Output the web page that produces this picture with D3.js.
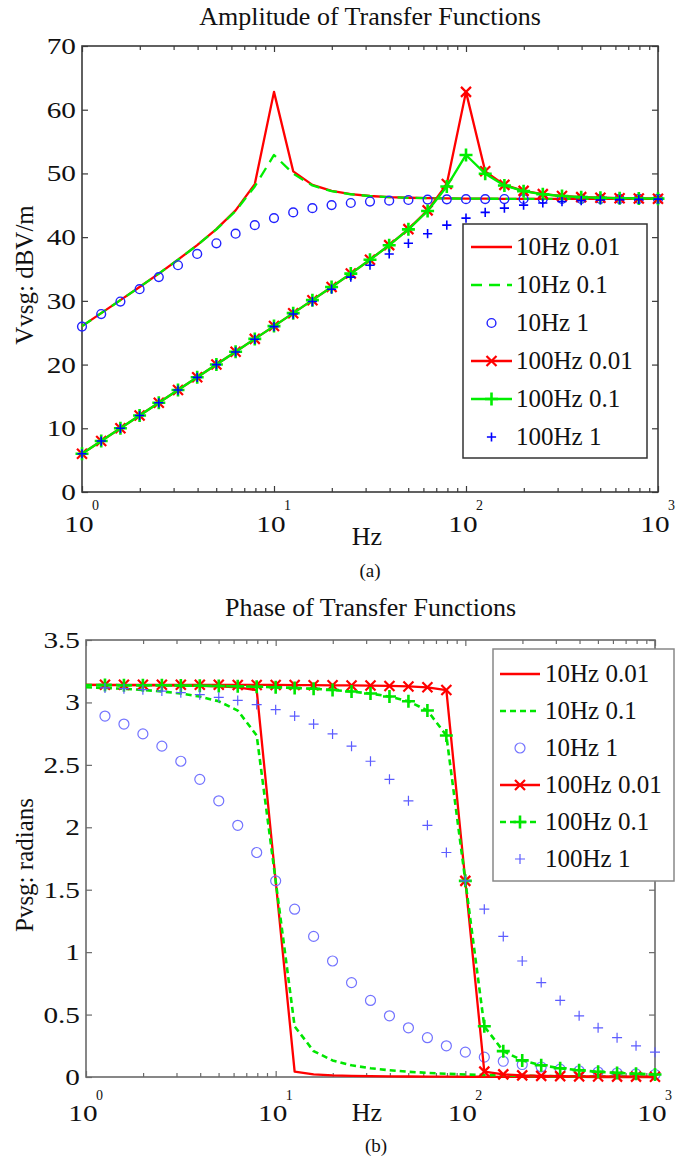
<!DOCTYPE html>
<html>
<head>
<meta charset="utf-8">
<script src="https://cdn.jsdelivr.net/npm/d3@7"></script>
<style>
  html, body { margin: 0; padding: 0; background: #fff; }
  svg { display: block; font-family: "Liberation Serif", "Times New Roman", serif; }
</style>
</head>
<body>
<svg id="fig" width="700" height="1161"></svg>
<script>
// Frequency grid, 10 points per decade (Hz)
const freqHz = [1, 1.259, 1.585, 1.995, 2.512, 3.162, 3.981, 5.012, 6.310, 7.943,
  10, 12.59, 15.85, 19.95, 25.12, 31.62, 39.81, 50.12, 63.10, 79.43,
  100, 125.9, 158.5, 199.5, 251.2, 316.2, 398.1, 501.2, 631.0, 794.3, 1000];

// Amplitude, dBV/m
const amp10Hz001 = [26.04, 28.07, 30.11, 32.18, 34.28, 36.46, 38.75, 41.26, 44.20, 48.33,
  62.8, 50.33, 48.20, 47.26, 46.75, 46.46, 46.28, 46.18, 46.11, 46.07,
  46.04, 46.03, 46.02, 46.01, 46.01, 46.0, 46.0, 46.0, 46.0, 46.0, 46.0];
const amp10Hz01 = [26.04, 28.07, 30.11, 32.17, 34.28, 36.45, 38.73, 41.22, 44.11, 47.96,
  52.9, 49.96, 48.11, 47.22, 46.73, 46.45, 46.28, 46.17, 46.11, 46.07,
  46.04, 46.03, 46.02, 46.01, 46.01, 46.0, 46.0, 46.0, 46.0, 46.0, 46.0];
const amp10Hz1 = [25.96, 27.93, 29.89, 31.83, 33.73, 35.59, 37.36, 39.03, 40.54, 41.88,
  42.99, 43.88, 44.55, 45.03, 45.36, 45.59, 45.73, 45.83, 45.89, 45.93,
  45.96, 45.97, 45.98, 45.99, 45.99, 46.0, 46.0, 46.0, 46.0, 46.0, 46.0];
const amp100Hz001 = [6.00, 8.00, 10.00, 12.00, 14.00, 16.00, 18.01, 20.01, 22.02, 24.03,
  26.04, 28.07, 30.11, 32.18, 34.28, 36.46, 38.75, 41.26, 44.20, 48.33,
  62.8, 50.33, 48.20, 47.26, 46.75, 46.46, 46.28, 46.18, 46.11, 46.07, 46.04];
const amp100Hz01 = [6.00, 8.00, 10.00, 12.00, 14.00, 16.00, 18.01, 20.01, 22.02, 24.03,
  26.04, 28.07, 30.11, 32.17, 34.28, 36.45, 38.73, 41.22, 44.11, 47.96,
  52.9, 49.96, 48.11, 47.22, 46.73, 46.45, 46.28, 46.17, 46.11, 46.07, 46.04];
const amp100Hz1 = [6.00, 8.00, 10.00, 12.00, 14.00, 16.00, 17.99, 19.99, 21.98, 23.97,
  25.96, 27.93, 29.89, 31.83, 33.73, 35.59, 37.36, 39.03, 40.54, 41.88,
  42.99, 43.88, 44.55, 45.03, 45.36, 45.59, 45.73, 45.83, 45.89, 45.93, 45.96];

// Phase, radians
const phase10Hz001 = [3.140, 3.139, 3.138, 3.137, 3.136, 3.135, 3.132, 3.128, 3.121, 3.099,
  1.571, 0.043, 0.021, 0.013, 0.009, 0.007, 0.005, 0.004, 0.003, 0.003,
  0.002, 0.002, 0.001, 0.001, 0.001, 0.001, 0.001, 0, 0, 0, 0];
const phase10Hz01 = [3.121, 3.116, 3.109, 3.100, 3.088, 3.071, 3.047, 3.009, 2.935, 2.735,
  1.571, 0.406, 0.207, 0.133, 0.094, 0.070, 0.054, 0.042, 0.033, 0.026,
  0.020, 0.016, 0.013, 0.010, 0.008, 0.006, 0.005, 0.004, 0.003, 0.003, 0.002];
const phase10Hz1 = [2.942, 2.891, 2.827, 2.748, 2.650, 2.529, 2.384, 2.212, 2.016, 1.798,
  1.571, 1.344, 1.126, 0.929, 0.756, 0.613, 0.490, 0.394, 0.315, 0.250,
  0.199, 0.159, 0.126, 0.100, 0.080, 0.063, 0.050, 0.040, 0.032, 0.025, 0.020];
const phase100Hz001 = [3.141, 3.141, 3.141, 3.141, 3.141, 3.141, 3.141, 3.141, 3.140, 3.140,
  3.140, 3.139, 3.138, 3.137, 3.136, 3.135, 3.132, 3.128, 3.121, 3.099,
  1.571, 0.043, 0.021, 0.013, 0.009, 0.007, 0.005, 0.004, 0.003, 0.003, 0.002];
const phase100Hz01 = [3.140, 3.139, 3.138, 3.138, 3.137, 3.135, 3.134, 3.132, 3.129, 3.126,
  3.121, 3.116, 3.109, 3.100, 3.088, 3.071, 3.047, 3.009, 2.935, 2.735,
  1.571, 0.406, 0.207, 0.133, 0.094, 0.070, 0.054, 0.042, 0.033, 0.026, 0.020];
const phase100Hz1 = [3.122, 3.116, 3.110, 3.102, 3.091, 3.078, 3.062, 3.041, 3.016, 2.983,
  2.942, 2.891, 2.827, 2.748, 2.650, 2.529, 2.384, 2.212, 2.016, 1.798,
  1.571, 1.344, 1.126, 0.929, 0.756, 0.613, 0.490, 0.394, 0.315, 0.250, 0.199];

const seriesNames = ["10Hz 0.01", "10Hz 0.1", "10Hz 1", "100Hz 0.01", "100Hz 0.1", "100Hz 1"];
const ampTicks = [0, 10, 20, 30, 40, 50, 60, 70];
const ampTickLabels = ["0", "10", "20", "30", "40", "50", "60", "70"];
const phaseTicks = [0, 0.5, 1, 1.5, 2, 2.5, 3, 3.5];
const phaseTickLabels = ["0", "0.5", "1", "1.5", "2", "2.5", "3", "3.5"];
const decadeTicks = [1, 10, 100, 1000];
const decadeExponents = ["0", "1", "2", "3"];

// ---- drawing ----
const svg = d3.select("#fig");

const minorTicks = [];
[1, 10, 100].forEach(d => { for (let m = 2; m <= 9; m++) minorTicks.push(d * m); });

const ampStyles = [
  { stroke: "#ff0000", width: 2.3 },
  { stroke: "#00ee00", width: 2.3, dash: "11,7" },
  { marker: "circle", color: "#2222ff", size: 4.4, mw: 1.4 },
  { stroke: "#ff0000", width: 2.3, marker: "x", color: "#ff0000", size: 5, mw: 2.2 },
  { stroke: "#00ee00", width: 2.3, marker: "plus", color: "#00ee00", size: 6.5, mw: 2.6 },
  { marker: "plus", color: "#0000ff", size: 4.6, mw: 1.6 }
];
const phaseStyles = [
  { stroke: "#ff0000", width: 2.3 },
  { stroke: "#00e600", width: 2.6, dash: "6,4" },
  { marker: "circle", color: "#7373ff", size: 5, mw: 1.2 },
  { stroke: "#ff0000", width: 2.3, marker: "x", color: "#ff0000", size: 5, mw: 2.2 },
  { stroke: "#00e600", width: 2.6, dash: "6,4", marker: "plus", color: "#00e600", size: 6.5, mw: 2.6 },
  { marker: "plus", color: "#5c5cff", size: 5, mw: 1.2 }
];

const panels = [
  {
    values: [amp10Hz001, amp10Hz01, amp10Hz1, amp100Hz001, amp100Hz01, amp100Hz1],
    styles: ampStyles, yDomain: [0, 70], yTicks: ampTicks, yLabels: ampTickLabels,
    box: { left: 82, right: 658, top: 46, bottom: 492 }, frameColor: "#3a3a3a",
    title: "Amplitude of Transfer Functions", titleY: 25,
    ylabel: "Vvsg: dBV/m", ylabelX: 33, ylabelY: 275,
    xlabelY: 545, tickBase: 532, expBase: 510,
    caption: "(a)", captionX: 370, captionY: 577, markerStart: 0,
    legend: { x: 463, y: 224, w: 184, h: 234, row0: 247, step: 38, s0: 471, s1: 512, tx: 516, color: "#333" }
  },
  {
    values: [phase10Hz001, phase10Hz01, phase10Hz1, phase100Hz001, phase100Hz01, phase100Hz1],
    styles: phaseStyles, yDomain: [0, 3.5], yTicks: phaseTicks, yLabels: phaseTickLabels,
    box: { left: 86, right: 655, top: 640, bottom: 1077 }, frameColor: "#6a6a6a",
    title: "Phase of Transfer Functions", titleY: 616,
    ylabel: "Pvsg: radians", ylabelX: 33, ylabelY: 865,
    xlabelY: 1121, tickBase: 1121, expBase: 1100,
    caption: "(b)", captionX: 376, captionY: 1152, markerStart: 1,
    legend: { x: 493, y: 649, w: 181, h: 232, row0: 674, step: 37, s0: 500, s1: 540, tx: 545, color: "#888" }
  }
];

function markerPath(kind, s) {
  if (kind === "plus") return `M${-s},0H${s}M0,${-s}V${s}`;
  if (kind === "x") return `M${-s},${-s}L${s},${s}M${-s},${s}L${s},${-s}`;
  return null;
}

function drawMarker(g, st, cx, cy) {
  if (st.marker === "circle") {
    g.append("circle").attr("cx", cx).attr("cy", cy).attr("r", st.size)
      .attr("fill", "none").attr("stroke", st.color).attr("stroke-width", st.mw);
  } else {
    g.append("path").attr("transform", `translate(${cx},${cy})`)
      .attr("d", markerPath(st.marker, st.size))
      .attr("fill", "none").attr("stroke", st.color).attr("stroke-width", st.mw);
  }
}

panels.forEach(p => {
  const b = p.box;
  const x = d3.scaleLog().domain([1, 1000]).range([b.left, b.right]);
  const y = d3.scaleLinear().domain(p.yDomain).range([b.bottom, b.top]);
  const g = svg.append("g");

  // axes box with inward ticks on all four sides
  const axes = g.append("g").attr("stroke-width", 1.3);
  const styleAxis = sel => {
    sel.select(".domain").remove();
    sel.selectAll("line").attr("stroke", p.frameColor).attr("stroke-width", 1.2);
  };
  axes.append("g").attr("transform", `translate(0,${b.bottom})`)
    .call(d3.axisBottom(x).tickValues(decadeTicks).tickSize(-6).tickFormat(() => "")).call(styleAxis);
  axes.append("g").attr("transform", `translate(0,${b.bottom})`)
    .call(d3.axisBottom(x).tickValues(minorTicks).tickSize(-4).tickFormat(() => "")).call(styleAxis);
  axes.append("g").attr("transform", `translate(0,${b.top})`)
    .call(d3.axisTop(x).tickValues(decadeTicks).tickSize(-6).tickFormat(() => "")).call(styleAxis);
  axes.append("g").attr("transform", `translate(0,${b.top})`)
    .call(d3.axisTop(x).tickValues(minorTicks).tickSize(-4).tickFormat(() => "")).call(styleAxis);
  axes.append("g").attr("transform", `translate(${b.left},0)`)
    .call(d3.axisLeft(y).tickValues(p.yTicks).tickSize(-6).tickFormat(() => "")).call(styleAxis);
  axes.append("g").attr("transform", `translate(${b.right},0)`)
    .call(d3.axisRight(y).tickValues(p.yTicks).tickSize(-6).tickFormat(() => "")).call(styleAxis);
  g.append("rect").attr("x", b.left).attr("y", b.top)
    .attr("width", b.right - b.left).attr("height", b.bottom - b.top)
    .attr("fill", "none").attr("stroke", p.frameColor).attr("stroke-width", 1.6);

  // y tick labels
  p.yTicks.forEach((t, i) => {
    g.append("text")
      .attr("transform", `translate(${b.left - 6},${y(t) + 8}) scale(1.22,1)`)
      .attr("text-anchor", "end").attr("font-size", 24).attr("fill", "#111")
      .text(p.yLabels[i]);
  });
  // x tick labels: 10 with superscript exponent
  decadeTicks.forEach((t, i) => {
    g.append("text")
      .attr("transform", `translate(${x(t) - 3},${p.tickBase}) scale(1.22,1)`)
      .attr("text-anchor", "middle").attr("font-size", 24).attr("fill", "#111").text("10");
    g.append("text").attr("x", x(t) + 10).attr("y", p.expBase)
      .attr("font-size", 14).attr("fill", "#111").text(decadeExponents[i]);
  });

  // titles and labels
  g.append("text").attr("x", (b.left + b.right) / 2).attr("y", p.titleY)
    .attr("text-anchor", "middle").attr("font-size", 26).attr("fill", "#111").text(p.title);
  g.append("text").attr("x", 367).attr("y", p.xlabelY)
    .attr("text-anchor", "middle").attr("font-size", 26).attr("fill", "#111").text("Hz");
  g.append("text").attr("transform", `translate(${p.ylabelX},${p.ylabelY}) rotate(-90)`)
    .attr("text-anchor", "middle").attr("font-size", 25).attr("fill", "#111").text(p.ylabel);
  g.append("text").attr("x", p.captionX).attr("y", p.captionY)
    .attr("text-anchor", "middle").attr("font-size", 19).attr("fill", "#111").text(p.caption);

  // series
  const line = d3.line().x(d => x(d.f)).y(d => y(d.v));
  p.values.forEach((vals, si) => {
    const st = p.styles[si];
    const pts = freqHz.map((f, k) => ({ f, v: vals[k], k }));
    const sg = g.append("g");
    if (st.stroke) {
      sg.append("path").datum(pts).attr("d", line)
        .attr("fill", "none").attr("stroke", st.stroke).attr("stroke-width", st.width)
        .attr("stroke-dasharray", st.dash || null).attr("stroke-linejoin", "round");
    }
    if (st.marker) {
      pts.filter(d => d.k >= p.markerStart).forEach(d => drawMarker(sg, st, x(d.f), y(d.v)));
    }
  });

  // legend
  const L = p.legend;
  const lg = g.append("g");
  lg.append("rect").attr("x", L.x).attr("y", L.y).attr("width", L.w).attr("height", L.h)
    .attr("fill", "#fff").attr("stroke", L.color).attr("stroke-width", 1.5);
  seriesNames.forEach((name, i) => {
    const st = p.styles[i];
    const cy = L.row0 + i * L.step;
    const cx = (L.s0 + L.s1) / 2;
    if (st.stroke) {
      lg.append("line").attr("x1", L.s0).attr("x2", L.s1).attr("y1", cy).attr("y2", cy)
        .attr("stroke", st.stroke).attr("stroke-width", st.width)
        .attr("stroke-dasharray", st.dash || null);
    }
    if (st.marker) drawMarker(lg, st, cx, cy);
    lg.append("text").attr("x", L.tx).attr("y", cy + 8)
      .attr("font-size", 25).attr("fill", "#111").text(name);
  });
});
</script>
</body>
</html>
